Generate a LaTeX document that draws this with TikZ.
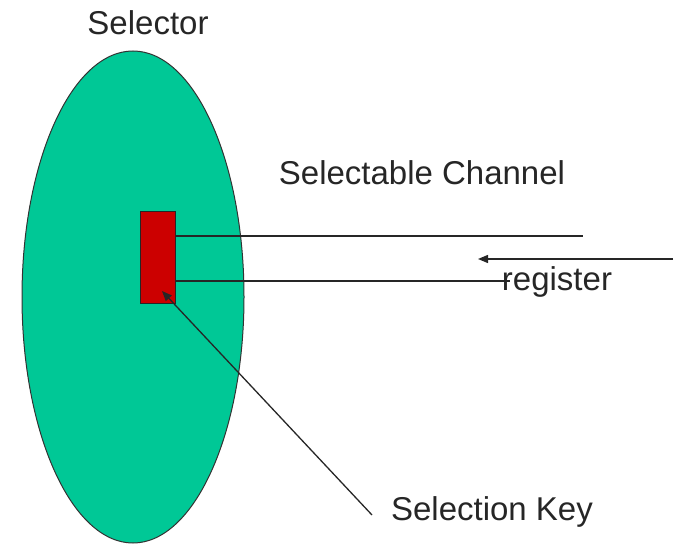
\documentclass[tikz,border=0pt]{standalone}
\usepackage{fontspec}
\setmainfont{Liberation Sans}
\usetikzlibrary{shapes.geometric,arrows.meta}
\definecolor{selgreen}{RGB}{0,200,150}
\definecolor{keyred}{RGB}{204,0,0}
\tikzset{
  lbl/.style={font=\fontsize{33}{38}\selectfont, text=black!85, inner sep=0pt},
  wire/.style={draw=black!85, line width=1.3pt},
  arr/.style={wire, -{Triangle[length=10pt,width=8pt]}}
}
\begin{document}
\begin{tikzpicture}[x=1pt,y=-1pt]
\useasboundingbox (0,0) rectangle (677,545);
\node[ellipse, draw=black!80, line width=1pt, fill=selgreen, minimum width=222pt, minimum height=492pt, inner sep=0pt] (sel) at (133,297) {};
\node[draw=black!85, line width=1pt, fill=keyred, minimum width=35pt, minimum height=91pt, inner sep=0pt] (key) at (157.5,257.5) {};
\node[lbl] (tsel) at (148,23) {Selector};
\node[lbl] (tchan) at (422,173) {Selectable Channel};
\node[lbl] (treg) at (557,282) {register};
\node[lbl] (tkey) at (492,512) {Selection Key};
\coordinate (c1) at (583,236);
\coordinate (c2) at (510,281);
\coordinate (a1) at (673,259);
\coordinate (a2) at (478,259);
\coordinate (k1) at (372,515);
\coordinate (k2) at (162,291);
\draw[wire] (key.east |- c1) -- (c1);
\draw[wire] (key.east |- c2) -- (c2);
\draw[arr] (a1) -- (a2);
\draw[arr] (k1) -- (k2);
\end{tikzpicture}
\end{document}
